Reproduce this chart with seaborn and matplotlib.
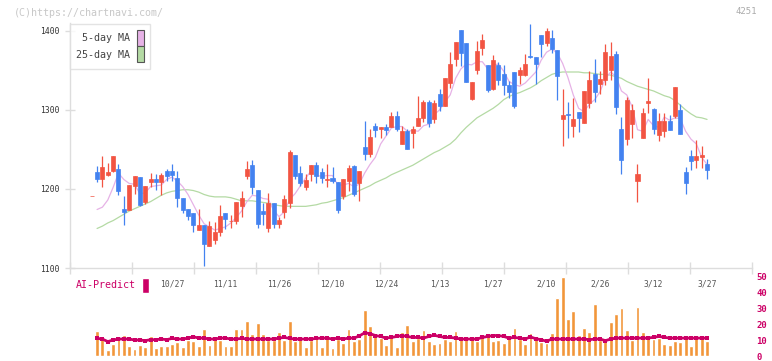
# Candlestick chart with moving averages and AI-Predict panel
import numpy as np
import pandas as pd
import matplotlib.pyplot as plt
from matplotlib.patches import Patch
import seaborn as sns

# ----------------------------------------------------------
# Data (one entry per trading day)
# ----------------------------------------------------------
opens = [1191, 1221, 1212, 1218, 1223, 1225, 1175, 1173, 1204, 1215,
         1183, 1209, 1212, 1209, 1223, 1223, 1214, 1189, 1175, 1170,
         1148, 1154, 1128, 1135, 1145, 1169, 1159, 1160, 1179, 1216,
         1230, 1199, 1172, 1150, 1182, 1156, 1171, 1182, 1243, 1220,
         1203, 1219, 1230, 1221, 1211, 1214, 1209, 1191, 1210, 1229,
         1208, 1253, 1244, 1280, 1276, 1278, 1279, 1292, 1257, 1273,
         1271, 1280, 1290, 1310, 1288, 1320, 1305, 1334, 1364, 1401,
         1385, 1314, 1350, 1379, 1357, 1327, 1357, 1346, 1331, 1348,
         1344, 1344, 1368, 1367, 1395, 1385, 1391, 1376, 1289, 1295,
         1280, 1297, 1283, 1309, 1345, 1333, 1338, 1350, 1371, 1276,
         1263, 1282, 1210, 1265, 1309, 1301, 1268, 1273, 1286, 1292,
         1300, 1222, 1242, 1237, 1241, 1232]
highs = [1191, 1229, 1242, 1233, 1242, 1232, 1191, 1205, 1216, 1215,
         1204, 1220, 1219, 1220, 1225, 1232, 1223, 1189, 1175, 1170,
         1175, 1155, 1159, 1158, 1180, 1169, 1167, 1184, 1197, 1235,
         1237, 1199, 1182, 1195, 1182, 1165, 1192, 1249, 1243, 1229,
         1219, 1230, 1234, 1227, 1232, 1228, 1209, 1213, 1230, 1230,
         1223, 1286, 1276, 1283, 1278, 1282, 1298, 1299, 1280, 1276,
         1280, 1318, 1313, 1312, 1312, 1326, 1340, 1373, 1386, 1401,
         1385, 1335, 1387, 1396, 1357, 1370, 1361, 1357, 1337, 1348,
         1354, 1371, 1409, 1367, 1395, 1404, 1401, 1376, 1326, 1310,
         1315, 1297, 1324, 1349, 1364, 1349, 1383, 1386, 1375, 1291,
         1316, 1307, 1232, 1303, 1340, 1303, 1296, 1296, 1294, 1329,
         1308, 1228, 1249, 1262, 1255, 1238]
lows = [1191, 1209, 1202, 1217, 1221, 1193, 1154, 1173, 1194, 1179,
        1181, 1202, 1199, 1192, 1210, 1210, 1177, 1170, 1161, 1146,
        1148, 1103, 1128, 1131, 1141, 1149, 1150, 1156, 1165, 1212,
        1194, 1151, 1154, 1145, 1151, 1150, 1163, 1176, 1213, 1204,
        1199, 1210, 1208, 1208, 1203, 1207, 1169, 1187, 1198, 1191,
        1185, 1237, 1241, 1266, 1265, 1268, 1278, 1273, 1257, 1251,
        1252, 1280, 1285, 1279, 1283, 1299, 1305, 1328, 1356, 1356,
        1335, 1312, 1346, 1369, 1323, 1325, 1332, 1319, 1315, 1303,
        1333, 1343, 1366, 1333, 1367, 1381, 1372, 1313, 1255, 1265,
        1266, 1272, 1283, 1302, 1310, 1320, 1332, 1338, 1295, 1219,
        1256, 1265, 1184, 1265, 1296, 1270, 1261, 1266, 1275, 1290,
        1270, 1194, 1224, 1226, 1226, 1213]
closes = [1191, 1213, 1228, 1221, 1242, 1197, 1171, 1205, 1216, 1180,
          1204, 1212, 1209, 1218, 1217, 1218, 1189, 1173, 1166, 1154,
          1154, 1131, 1153, 1146, 1166, 1162, 1160, 1184, 1189, 1225,
          1202, 1156, 1168, 1182, 1156, 1161, 1187, 1247, 1216, 1208,
          1211, 1230, 1216, 1214, 1213, 1210, 1173, 1213, 1227, 1194,
          1223, 1244, 1266, 1275, 1278, 1274, 1292, 1276, 1273, 1251,
          1276, 1290, 1310, 1284, 1309, 1305, 1340, 1358, 1386, 1372,
          1335, 1335, 1375, 1388, 1325, 1363, 1338, 1332, 1323, 1305,
          1351, 1358, 1367, 1358, 1383, 1400, 1377, 1343, 1294, 1293,
          1289, 1290, 1324, 1338, 1323, 1339, 1373, 1368, 1304, 1237,
          1313, 1300, 1219, 1296, 1311, 1276, 1286, 1286, 1275, 1329,
          1270, 1208, 1236, 1242, 1243, 1224]

ma5 = [None, 1174, 1177, 1186, 1202,
       1220, 1212, 1207, 1206, 1194, 1195, 1203, 1204, 1205, 1212,
       1215, 1210, 1203, 1193, 1180, 1167, 1156, 1152, 1148, 1150,
       1152, 1157, 1164, 1172, 1184, 1192, 1191, 1188, 1187, 1173,
       1165, 1171, 1187, 1194, 1204, 1214, 1223, 1217, 1216, 1217,
       1217, 1205, 1205, 1207, 1203, 1206, 1220, 1231, 1240, 1257,
       1267, 1277, 1279, 1279, 1273, 1274, 1273, 1280, 1282, 1294,
       1300, 1310, 1319, 1340, 1352, 1358, 1357, 1361, 1361, 1352,
       1357, 1358, 1349, 1336, 1332, 1330, 1334, 1341, 1348, 1363,
       1373, 1377, 1372, 1359, 1341, 1319, 1302, 1298, 1307, 1313,
       1323, 1340, 1348, 1342, 1324, 1319, 1304, 1275, 1273, 1288,
       1280, 1278, 1291, 1287, 1290, 1289, 1273, 1263, 1257, 1240, 1231]
ma25 = [None, 1150, 1153, 1157, 1160,
        1164, 1168, 1172, 1175, 1178, 1181, 1184, 1188, 1192, 1195,
        1197, 1198, 1199, 1199, 1198, 1196, 1193, 1191, 1190, 1190,
        1190, 1189, 1187, 1185, 1185, 1185, 1184, 1183, 1182, 1180,
        1179, 1178, 1178, 1178, 1178, 1178, 1179, 1180, 1182, 1183,
        1185, 1187, 1189, 1192, 1195, 1198, 1201, 1204, 1208, 1211,
        1214, 1218, 1221, 1224, 1227, 1230, 1234, 1238, 1242, 1246,
        1249, 1253, 1257, 1263, 1271, 1278, 1284, 1290, 1294, 1298,
        1302, 1307, 1313, 1317, 1320, 1322, 1325, 1328, 1332, 1337,
        1341, 1345, 1347, 1348, 1348, 1348, 1348, 1347, 1347, 1346,
        1345, 1345, 1344, 1342, 1340, 1336, 1333, 1330, 1328, 1326,
        1324, 1321, 1318, 1316, 1312, 1306, 1300, 1295, 1291, 1290, 1288]

volume = [None, 15.8, 11.2, 4.0, 7.5, 11.9, 13.1, 6.4, 4.6, 6.9,
          5.6, 12.5, 5.0, 6.2, 6.2, 7.5, 9.0, 5.6, 9.8, 9.4,
          6.2, 16.9, 6.9, 11.2, 9.8, 6.2, 6.2, 16.9, 16.9, 21.9,
          13.8, 20.6, 13.8, 9.8, 9.8, 15.0, 9.8, 21.9, 9.4, 11.2,
          5.6, 9.8, 11.2, 5.6, 11.2, 5.0, 10.4, 8.1, 16.9, 9.4,
          10.4, 28.5, 18.8, 13.8, 11.2, 6.9, 11.9, 5.6, 15.0, 19.4,
          9.4, 11.2, 16.0, 9.4, 7.5, 8.1, 10.4, 9.4, 15.6, 10.6,
          10.6, 10.6, 9.4, 12.5, 14.0, 9.4, 10.0, 8.1, 11.9, 17.5,
          10.6, 7.5, 14.4, 11.2, 8.8, 8.1, 14.4, 36.2, 49.4, 23.1,
          28.3, 13.1, 17.5, 15.0, 32.7, 10.2, 11.2, 21.2, 26.2, 30.0,
          16.5, 10.2, 30.6, 15.0, 12.7, 10.6, 11.2, 7.5, 6.9, 9.4,
          8.8, 13.1, 6.2, 13.1, 11.2, 9.4]
ai_predict = [None, 11.0, 10.6, 9.0, 10.0, 10.6, 10.6, 10.6, 10.0, 10.0,
              9.6, 10.2, 10.2, 10.6, 10.2, 11.0, 10.6, 10.6, 11.2, 12.0,
              11.2, 11.2, 10.6, 10.6, 11.2, 11.2, 10.6, 10.6, 11.0, 10.6,
              10.6, 10.6, 10.6, 10.6, 10.6, 11.2, 11.6, 11.0, 10.6, 10.6,
              10.6, 10.6, 11.0, 11.2, 11.2, 10.6, 11.2, 10.6, 11.2, 11.2,
              12.5, 14.5, 14.0, 12.8, 12.2, 11.2, 11.6, 12.2, 12.8, 12.2,
              11.6, 11.6, 11.2, 12.2, 13.0, 12.2, 11.6, 11.6, 11.2, 10.6,
              10.6, 10.6, 10.6, 11.6, 12.2, 12.8, 12.8, 12.2, 11.2, 11.6,
              11.2, 10.6, 11.9, 10.8, 10.2, 9.2, 10.6, 10.6, 10.6, 10.6,
              10.6, 10.6, 10.6, 10.2, 10.6, 10.6, 9.6, 10.6, 11.2, 11.2,
              11.2, 11.2, 11.2, 11.2, 11.2, 11.7, 12.2, 11.7, 11.2, 11.2,
              11.2, 11.2, 11.2, 11.2, 11.2, 11.2]

date_labels = ['10/27', '11/11', '11/26', '12/10', '12/24', '1/13',
               '1/27', '2/10', '2/26', '3/12', '3/27']
label_days = [15, 25, 35, 45, 55, 65, 75, 85, 95, 105, 115]

df = pd.DataFrame({'open': opens, 'high': highs, 'low': lows, 'close': closes,
                   'ma5': ma5, 'ma25': ma25, 'volume': volume, 'ai': ai_predict},
                  dtype=float)
df['day'] = np.arange(len(df))

# Colours
RED = '#f25442'
BLUE = '#4382f0'
PINK = '#e6b2e6'
GREEN = '#b4daa4'
ORANGE = '#f2963a'
CRIMSON = '#cc0066'
LIGHT = '#dddddd'

sns.set_theme(style='white')
plt.rcParams['font.family'] = ['DejaVu Sans Mono']

fig = plt.figure(figsize=(7.72, 3.61), dpi=100)
ax = fig.add_axes([70 / 772, 93 / 361, 682 / 772, 245 / 361])
ax2 = fig.add_axes([70 / 772, 5 / 361, 682 / 772, 84 / 361])
x_range = (-4.06, 123.4)

# ----------------------------------------------------------
# Price panel
# ----------------------------------------------------------
sns.lineplot(data=df, x='day', y='ma25', ax=ax, color=GREEN, linewidth=0.9, zorder=2)
sns.lineplot(data=df, x='day', y='ma5', ax=ax, color=PINK, linewidth=0.9, zorder=2)

up = df['close'] >= df['open']
colors = np.where(up, RED, BLUE)
ax.vlines(df['day'], df['low'], df['high'], colors=colors, linewidth=0.9, zorder=3)
ax.bar(df['day'], df['close'] - df['open'], bottom=df['open'], width=0.75,
       color=colors, edgecolor=colors, linewidth=0.5, zorder=4)

ax.set_xlim(*x_range)
ax.set_ylim(1100, 1410)
ax.set_xlabel('')
ax.set_ylabel('')
ax.set_yticks([1100, 1200, 1300, 1400])
ax.set_xticks(np.linspace(x_range[0], x_range[1], 12))
ax.set_xticklabels([])
ax.set_xticks(label_days, minor=True)
ax.set_xticklabels(date_labels, minor=True)
ax.tick_params(axis='x', which='major', bottom=True, direction='inout', length=8,
               width=1, color=LIGHT)
ax.tick_params(axis='x', which='minor', bottom=True, length=0, pad=8.5,
               labelsize=5.8, labelcolor='#555555')
ax.tick_params(axis='y', left=True, direction='inout', length=7, width=1,
               color=LIGHT, pad=4, labelsize=5.8, labelcolor='#333333')
sns.despine(ax=ax)
for side in ['left', 'bottom']:
    ax.spines[side].set_color(LIGHT)
    ax.spines[side].set_linewidth(1)

handles = [Patch(facecolor=PINK, edgecolor='#555555', linewidth=0.8),
           Patch(facecolor=GREEN, edgecolor='#555555', linewidth=0.8)]
leg = ax.legend(handles, ['5-day MA', '25-day MA'], loc='upper left',
                bbox_to_anchor=(0, 0.997), borderaxespad=0, markerfirst=False,
                fancybox=False, edgecolor=LIGHT, fontsize=7.2, labelcolor='#444444',
                handlelength=0.7, handleheight=2.1, handletextpad=0.6,
                labelspacing=0.0, borderpad=0.65)
leg.get_frame().set_linewidth(1)

# ----------------------------------------------------------
# AI-Predict panel
# ----------------------------------------------------------
ax2.bar(df['day'], df['volume'], width=0.72, color=ORANGE, zorder=2)
sns.lineplot(data=df, x='day', y='ai', ax=ax2, color=CRIMSON, linewidth=2,
             marker='s', markersize=3, markeredgewidth=0, zorder=3)
ax2.set_facecolor('none')
ax2.set_xlim(*x_range)
ax2.set_ylim(0, 52.5)
ax2.set_xlabel('')
ax2.set_ylabel('')
ax2.set_xticks([])
ax2.yaxis.tick_right()
ax2.set_yticks(range(0, 51, 10))
ax2.tick_params(axis='y', right=True, length=0, pad=3, labelsize=6.5,
                labelcolor=CRIMSON)
for label in ax2.get_yticklabels():
    label.set_fontweight('bold')
sns.despine(ax=ax2, left=True, bottom=True)

ax2.legend([Patch(facecolor=CRIMSON)], ['AI-Predict'], loc='upper left',
           bbox_to_anchor=(0, 1.0), borderaxespad=0, markerfirst=False,
           frameon=False, fontsize=7.2, labelcolor=CRIMSON, handlelength=0.7,
           handleheight=2.0, handletextpad=0.6, borderpad=0.55)

# Header texts
fig.text(14 / 772, 1 - 13 / 361, '(C)https://chartnavi.com/', color='#c8c8c8',
         fontsize=7.2, ha='left', va='center')
fig.text(757 / 772, 1 - 12 / 361, '4251', color='#aaaaaa', fontsize=6.5,
         ha='right', va='center')

fig.savefig('out.png', dpi=100)
